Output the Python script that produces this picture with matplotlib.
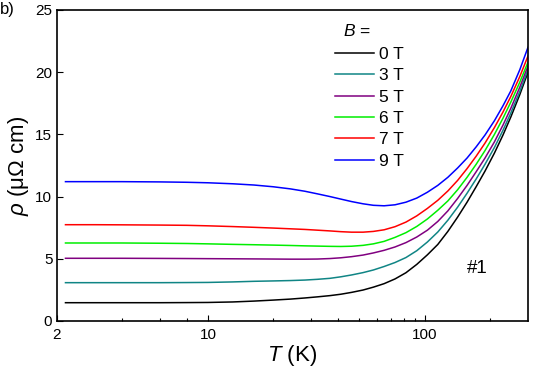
import numpy as np
import matplotlib
matplotlib.use("Agg")
import matplotlib.pyplot as plt

plt.rcParams['font.family'] = ['Liberation Sans', 'DejaVu Sans']
plt.rcParams['mathtext.fontset'] = 'custom'
plt.rcParams['mathtext.rm'] = 'Liberation Sans'
plt.rcParams['mathtext.it'] = 'Liberation Sans:italic'

# temperature grid (K)
temps = [2.2, 3, 4, 6, 8, 10, 13, 16.3, 20, 24, 28, 32, 36.6, 41, 46, 52, 58, 65,
         73, 82, 92, 103, 115, 128, 142, 157, 173, 190, 210, 230, 250, 275, 300]

rho_0T = [1.47, 1.47, 1.47, 1.47, 1.48, 1.49, 1.53, 1.60, 1.68, 1.76, 1.85, 1.94,
          2.04, 2.15, 2.30, 2.49, 2.72, 3.00, 3.38, 3.88, 4.55, 5.32, 6.15, 7.20,
          8.35, 9.55, 10.8, 12.05, 13.5, 14.95, 16.4, 18.2, 20.0]
rho_3T = [3.08, 3.08, 3.08, 3.08, 3.09, 3.10, 3.14, 3.19, 3.22, 3.25, 3.29, 3.35,
          3.43, 3.55, 3.70, 3.89, 4.10, 4.38, 4.70, 5.10, 5.65, 6.35, 7.15, 8.10,
          9.15, 10.27, 11.42, 12.6, 13.95, 15.33, 16.72, 18.45, 20.2]
rho_5T = [5.04, 5.04, 5.04, 5.03, 5.02, 5.01, 5.00, 4.99, 4.98, 4.97, 4.97, 4.98,
          5.02, 5.08, 5.17, 5.30, 5.47, 5.68, 5.95, 6.30, 6.75, 7.30, 8.00, 8.85,
          9.85, 10.9, 12.0, 13.1, 14.4, 15.75, 17.1, 18.8, 20.5]
rho_6T = [6.27, 6.27, 6.27, 6.25, 6.23, 6.20, 6.16, 6.13, 6.10, 6.07, 6.04, 6.02,
          6.00, 5.99, 6.01, 6.08, 6.20, 6.40, 6.72, 7.10, 7.60, 8.20, 8.90, 9.65,
          10.55, 11.55, 12.6, 13.7, 15.0, 16.3, 17.6, 19.2, 20.8]
rho_7T = [7.74, 7.74, 7.73, 7.71, 7.69, 7.65, 7.59, 7.53, 7.47, 7.41, 7.36, 7.30,
          7.24, 7.18, 7.14, 7.14, 7.20, 7.33, 7.58, 7.95, 8.45, 9.05, 9.70, 10.45,
          11.3, 12.25, 13.25, 14.3, 15.55, 16.8, 18.05, 19.65, 21.3]
rho_9T = [11.2, 11.2, 11.2, 11.18, 11.15, 11.11, 11.03, 10.93, 10.79, 10.62, 10.43, 10.22,
          10.0, 9.80, 9.60, 9.42, 9.30, 9.26, 9.34, 9.55, 9.88, 10.35, 10.9, 11.55,
          12.3, 13.1, 14.0, 14.95, 16.1, 17.3, 18.5, 20.2, 22.0]

fields = ["0 T", "3 T", "5 T", "6 T", "7 T", "9 T"]
series = [rho_0T, rho_3T, rho_5T, rho_6T, rho_7T, rho_9T]
colors = ["#000000", "#108585", "#800080", "#00ee00", "#ff0000", "#0000ff"]

fig = plt.figure(figsize=(5.45, 3.81), dpi=100)
ax = fig.add_axes([0.1037, 0.1575, 0.8651, 0.8163])

for rho, lab, c in zip(series, fields, colors):
    ax.plot(temps, rho, color=c, lw=1.1, label=lab)

ax.set_xscale("log")
ax.set_xlim(2, 300)
ax.set_ylim(0, 25)
ax.set_xticks([2, 10, 100])
ax.set_xticklabels(["2", "10", "100"])
ax.set_xticks([4, 6, 8, 20, 30, 40, 50, 60, 70, 80, 90, 200], minor=True)
ax.xaxis.set_minor_formatter(matplotlib.ticker.NullFormatter())
ax.set_yticks([0, 5, 10, 15, 20, 25])
ax.tick_params(which="both", direction="in", labelsize=11, width=0.8)
ax.tick_params(which="major", length=4.5)
ax.tick_params(which="minor", length=2.5)
ax.tick_params(axis="x", pad=5)
ax.tick_params(axis="y", pad=3)
for s in ax.spines.values():
    s.set_linewidth(1.2)

ax.set_xlabel("$T$ (K)", fontsize=16, labelpad=1)
ax.set_ylabel(r"$\rho$ (μΩ cm)", fontsize=16, labelpad=3)

ax.legend(loc="upper left", bbox_to_anchor=(0.5907, 0.882), frameon=False,
          fontsize=12.5, handlelength=2.24, handletextpad=0.29, labelspacing=0.36,
          borderpad=0, borderaxespad=0)
ax.text(0.6076, 0.915, "$B$ =", transform=ax.transAxes, fontsize=12.5, va="baseline")
ax.text(0.8706, 0.154, "#1", transform=ax.transAxes, fontsize=13.5, va="baseline")
fig.text(0.0, 0.995, "b)", fontsize=12, va="top", ha="left")

fig.savefig("out.png", dpi=100)
